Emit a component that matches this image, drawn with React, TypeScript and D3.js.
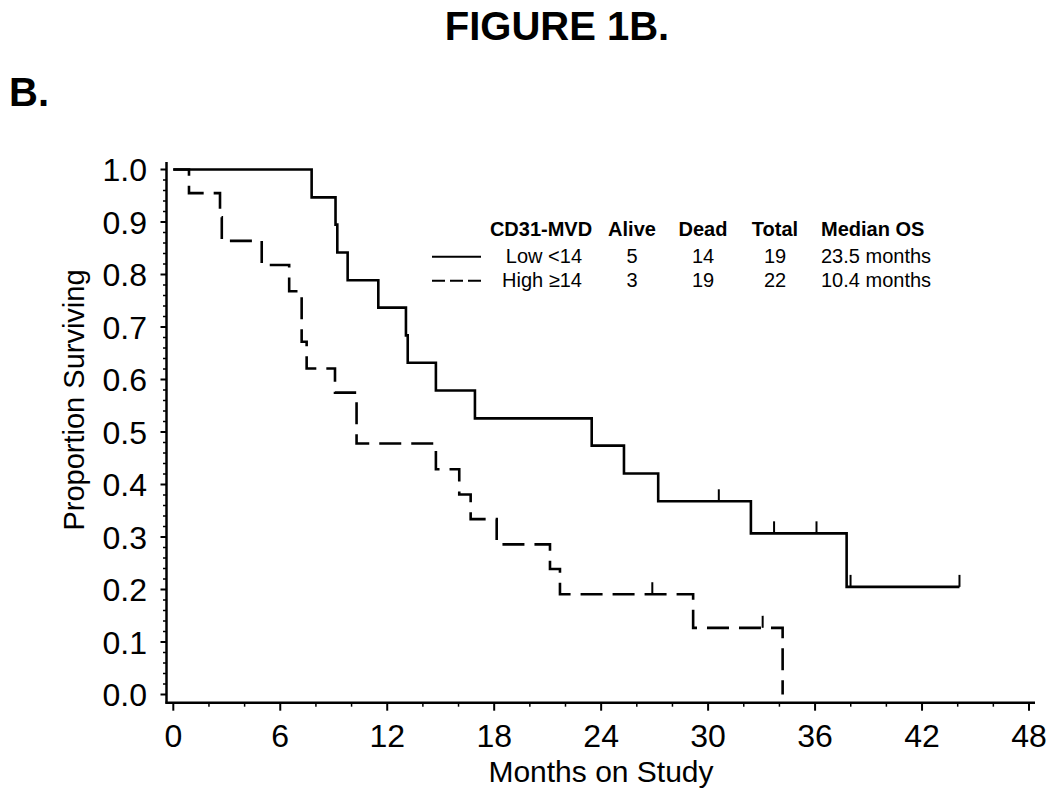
import React from "react";
import * as d3 from "d3";

// ---- Data ----
const lowEventMonths = [7.76, 9.1, 9.2, 9.78, 11.5, 13.05, 13.15, 14.73, 16.92, 23.47, 25.28, 27.2, 32.4, 37.77];
const lowSurvival = [0.947, 0.895, 0.842, 0.789, 0.737, 0.684, 0.632, 0.579, 0.526, 0.474, 0.421, 0.368, 0.307, 0.205];
const lowCensorMonths = [30.6, 33.7, 36.08, 37.99, 44.1];
const lowLastMonth = 44.1;

const highEventMonths = [0.88, 2.62, 2.72, 4.96, 6.5, 7.2, 7.48, 9.07, 10.28, 14.73, 16.04, 16.68, 18.14, 21.13, 21.69, 29.16, 34.18];
const highSurvival = [0.955, 0.909, 0.864, 0.818, 0.768, 0.672, 0.621, 0.575, 0.478, 0.429, 0.381, 0.334, 0.286, 0.239, 0.191, 0.127, 0.0];
const highCensorMonths = [26.87, 33.06];
const highLastMonth = 34.18;

const xTicks = [0, 6, 12, 18, 24, 30, 36, 42, 48];
const yTicks = [0, 0.1, 0.2, 0.3, 0.4, 0.5, 0.6, 0.7, 0.8, 0.9, 1.0];

const legendHeaders = ["CD31-MVD", "Alive", "Dead", "Total", "Median OS"];
const legendGroups = ["Low <14", "High \u226514"];
const legendAlive = [5, 3];
const legendDead = [14, 19];
const legendTotal = [19, 22];
const legendMedian = ["23.5 months", "10.4 months"];

const FONT = "'Liberation Sans', Arial, Helvetica, sans-serif";

function stepPoints(times: number[], surv: number[], last: number): [number, number][] {
  const pts: [number, number][] = [[0, 1]];
  times.forEach((t, i) => pts.push([t, surv[i]]));
  const lastS = surv[surv.length - 1];
  if (last > times[times.length - 1]) pts.push([last, lastS]);
  return pts;
}

function survAt(times: number[], surv: number[], t: number) {
  let s = 1;
  times.forEach((tt, i) => {
    if (tt <= t) s = surv[i];
  });
  return s;
}

export default function App() {
  const W = 1050;
  const H = 797;
  const x = d3.scaleLinear().domain([0, 48]).range([173.3, 1029]);
  const y = d3.scaleLinear().domain([0, 1]).range([694.5, 169.5]);
  const axisX = 166.5;
  const axisY = 702.7;

  const line = d3
    .line<[number, number]>()
    .x((d) => x(d[0]))
    .y((d) => y(d[1]))
    .curve(d3.curveStepAfter);

  const lowPath = line(stepPoints(lowEventMonths, lowSurvival, lowLastMonth)) || "";
  const highPath = line(stepPoints(highEventMonths, highSurvival, highLastMonth)) || "";

  const yMinor = d3.range(0, 51).map((i) => i / 50).filter((v) => Math.abs(v * 10 - Math.round(v * 10)) > 1e-6);
  const xMinor = d3.range(0, 49, 2).filter((v) => v % 6 !== 0);

  const colX = [541, 632, 703, 775, 821];
  const headerY = 236;
  const rowY = [262.7, 286.7];

  return (
    <div style={{ position: "absolute", left: 0, top: 0 }}>
      <svg width={W} height={H} style={{ display: "block", background: "#fff" }} fontFamily={FONT}>
        <rect x={0} y={0} width={W} height={H} fill="#fff" />
        <text x={557} y={40} textAnchor="middle" fontSize={40} fontWeight="bold">FIGURE 1B.</text>
        <text x={9} y={106} fontSize={40} fontWeight="bold">B.</text>

        {/* axes */}
        <line x1={axisX} y1={162} x2={axisX} y2={axisY + 1} stroke="#000" strokeWidth={2.5} />
        <line x1={axisX - 1} y1={axisY} x2={1035} y2={axisY} stroke="#000" strokeWidth={2.5} />
        {yTicks.map((v) => (
          <g key={"yt" + v}>
            <line x1={axisX - 6} x2={axisX} y1={y(v)} y2={y(v)} stroke="#000" strokeWidth={2} />
            <text x={147} y={y(v)} dy="0.36em" textAnchor="end" fontSize={32}>{v.toFixed(1)}</text>
          </g>
        ))}
        {yMinor.map((v) => (
          <line key={"ym" + v} x1={axisX - 3.5} x2={axisX} y1={y(v)} y2={y(v)} stroke="#000" strokeWidth={1.5} />
        ))}
        {xTicks.map((v) => (
          <g key={"xt" + v}>
            <line x1={x(v)} x2={x(v)} y1={axisY} y2={axisY + 8} stroke="#000" strokeWidth={2} />
            <text x={x(v)} y={746.7} textAnchor="middle" fontSize={32}>{v}</text>
          </g>
        ))}
        {xMinor.map((v) => (
          <line key={"xm" + v} x1={x(v)} x2={x(v)} y1={axisY} y2={axisY + 4} stroke="#000" strokeWidth={1.5} />
        ))}
        <text x={601} y={781.7} textAnchor="middle" fontSize={30}>Months on Study</text>
        <text transform={`translate(84,400) rotate(-90)`} textAnchor="middle" fontSize={29}>Proportion Surviving</text>

        {/* curves */}
        <path d={lowPath} fill="none" stroke="#000" strokeWidth={2.6} />
        <path d={highPath} fill="none" stroke="#000" strokeWidth={2.6} strokeDasharray="22 10" />
        {lowCensorMonths.map((t) => {
          const s = survAt(lowEventMonths, lowSurvival, t);
          return <line key={"lc" + t} x1={x(t)} x2={x(t)} y1={y(s)} y2={y(s) - 12} stroke="#000" strokeWidth={2} />;
        })}
        {highCensorMonths.map((t) => {
          const s = survAt(highEventMonths, highSurvival, t);
          return <line key={"hc" + t} x1={x(t)} x2={x(t)} y1={y(s)} y2={y(s) - 12} stroke="#000" strokeWidth={2} />;
        })}

        {/* legend */}
        <g fontSize={20}>
          {legendHeaders.map((h, i) => (
            <text key={h} x={colX[i]} y={headerY} fontWeight="bold" textAnchor={i === 4 ? "start" : "middle"}>{h}</text>
          ))}
          {legendGroups.map((g, r) => (
            <g key={g}>
              <line x1={432} x2={481} y1={rowY[r] - 6} y2={rowY[r] - 6} stroke="#000" strokeWidth={2}
                strokeDasharray={r === 1 ? "13 5" : undefined} />
              <text x={582} y={rowY[r]} textAnchor="end">{g}</text>
              <text x={colX[1]} y={rowY[r]} textAnchor="middle">{legendAlive[r]}</text>
              <text x={colX[2]} y={rowY[r]} textAnchor="middle">{legendDead[r]}</text>
              <text x={colX[3]} y={rowY[r]} textAnchor="middle">{legendTotal[r]}</text>
              <text x={colX[4]} y={rowY[r]} textAnchor="start">{legendMedian[r]}</text>
            </g>
          ))}
        </g>
      </svg>
    </div>
  );
}
